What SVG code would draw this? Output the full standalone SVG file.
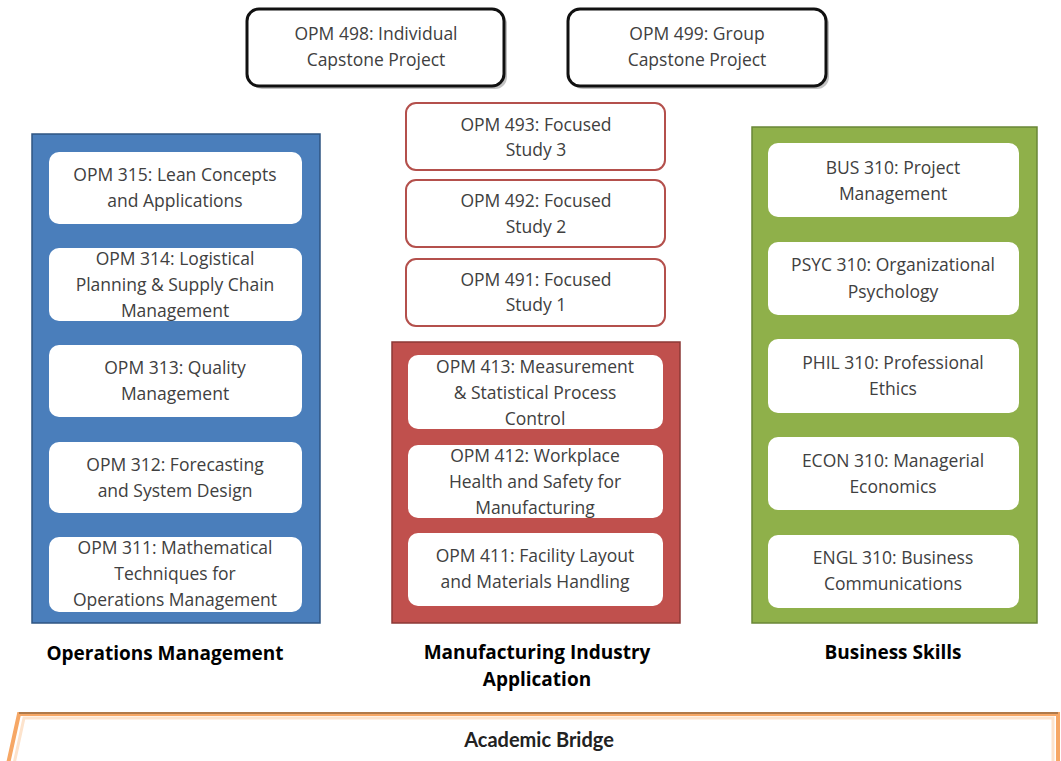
<svg xmlns="http://www.w3.org/2000/svg" width="1061" height="761" viewBox="0 0 1061 761">
<style>
.t{font-family:"Open Sans","Liberation Sans",sans-serif;font-size:17.5px;fill:#404040;text-anchor:middle}
.lbl{font-family:"Open Sans","Liberation Sans",sans-serif;font-size:19px;font-weight:bold;fill:#000;text-anchor:middle}
.inner{fill:#fff;stroke:none}
.cap{fill:#fff;stroke:#111;stroke-width:3}
.foc{fill:#fff;stroke:#b4504c;stroke-width:2}
.sh{fill:#9a9a9a;opacity:0.6}
</style>
<rect width="1061" height="761" fill="#fff"/>
<g id="connectors"></g>

<g id="opm498">
<rect class="sh" x="250" y="12" width="257" height="77" rx="12"/>
<rect class="cap" x="247" y="9" width="257" height="77" rx="12"/>
<text class="t" x="376" y="40">OPM 498: Individual</text>
<text class="t" x="376" y="66">Capstone Project</text>
</g>
<g id="opm499">
<rect class="sh" x="571" y="12" width="258" height="77" rx="12"/>
<rect class="cap" x="568" y="9" width="258" height="77" rx="12"/>
<text class="t" x="697" y="40">OPM 499: Group</text>
<text class="t" x="697" y="66">Capstone Project</text>
</g>

<g id="opm493">
<rect class="foc" x="406" y="103" width="259" height="67" rx="10"/>
<text class="t" x="536" y="131">OPM 493: Focused</text>
<text class="t" x="536" y="156">Study 3</text>
</g>
<g id="opm492">
<rect class="foc" x="406" y="180" width="259" height="67" rx="10"/>
<text class="t" x="536" y="207">OPM 492: Focused</text>
<text class="t" x="536" y="233">Study 2</text>
</g>
<g id="opm491">
<rect class="foc" x="406" y="259" width="259" height="67" rx="10"/>
<text class="t" x="536" y="286">OPM 491: Focused</text>
<text class="t" x="536" y="311">Study 1</text>
</g>

<g id="operations-management">
<rect x="32" y="134" width="288" height="489" fill="#4a7ebb" stroke="#2f5582" stroke-width="1.5"/>
<text class="lbl" x="165" y="660">Operations Management</text>
</g>
<g id="opm315">
<rect class="inner" x="49" y="152" width="253" height="72" rx="10"/>
<text class="t" x="175" y="181">OPM 315: Lean Concepts</text>
<text class="t" x="175" y="207">and Applications</text>
</g>
<g id="opm314">
<rect class="inner" x="49" y="248" width="253" height="73" rx="10"/>
<text class="t" x="175" y="265">OPM 314: Logistical</text>
<text class="t" x="175" y="291">Planning &amp; Supply Chain</text>
<text class="t" x="175" y="317">Management</text>
</g>
<g id="opm313">
<rect class="inner" x="49" y="345" width="253" height="72" rx="10"/>
<text class="t" x="175" y="374">OPM 313: Quality</text>
<text class="t" x="175" y="400">Management</text>
</g>
<g id="opm312">
<rect class="inner" x="49" y="442" width="253" height="71" rx="10"/>
<text class="t" x="175" y="471">OPM 312: Forecasting</text>
<text class="t" x="175" y="497">and System Design</text>
</g>
<g id="opm311">
<rect class="inner" x="49" y="537" width="253" height="75" rx="10"/>
<text class="t" x="175" y="554">OPM 311: Mathematical</text>
<text class="t" x="175" y="580">Techniques for</text>
<text class="t" x="175" y="606">Operations Management</text>
</g>

<g id="manufacturing-industry-application">
<rect x="392" y="342" width="288" height="281" fill="#c0504d" stroke="#8c3836" stroke-width="1.5"/>
<text class="lbl" x="537" y="659">Manufacturing Industry</text>
<text class="lbl" x="537" y="686">Application</text>
</g>
<g id="opm413">
<rect class="inner" x="408" y="355" width="255" height="74" rx="10"/>
<text class="t" x="535" y="373">OPM 413: Measurement</text>
<text class="t" x="535" y="399">&amp; Statistical Process</text>
<text class="t" x="535" y="425">Control</text>
</g>
<g id="opm412">
<rect class="inner" x="408" y="445" width="255" height="73" rx="10"/>
<text class="t" x="535" y="462">OPM 412: Workplace</text>
<text class="t" x="535" y="488">Health and Safety for</text>
<text class="t" x="535" y="514">Manufacturing</text>
</g>
<g id="opm411">
<rect class="inner" x="408" y="533" width="255" height="73" rx="10"/>
<text class="t" x="535" y="562">OPM 411: Facility Layout</text>
<text class="t" x="535" y="588">and Materials Handling</text>
</g>

<g id="business-skills">
<rect x="752" y="127" width="285" height="496" fill="#8fb04a" stroke="#6a8737" stroke-width="1.5"/>
<text class="lbl" x="893" y="659">Business Skills</text>
</g>
<g id="bus310">
<rect class="inner" x="768" y="143" width="251" height="74" rx="10"/>
<text class="t" x="893" y="174">BUS 310: Project</text>
<text class="t" x="893" y="200">Management</text>
</g>
<g id="psyc310">
<rect class="inner" x="768" y="242" width="251" height="73" rx="10"/>
<text class="t" x="893" y="271">PSYC 310: Organizational</text>
<text class="t" x="893" y="298">Psychology</text>
</g>
<g id="phil310">
<rect class="inner" x="768" y="339" width="251" height="74" rx="10"/>
<text class="t" x="893" y="369">PHIL 310: Professional</text>
<text class="t" x="893" y="395">Ethics</text>
</g>
<g id="econ310">
<rect class="inner" x="768" y="437" width="251" height="73" rx="10"/>
<text class="t" x="893" y="467">ECON 310: Managerial</text>
<text class="t" x="893" y="493">Economics</text>
</g>
<g id="engl310">
<rect class="inner" x="768" y="535" width="251" height="73" rx="10"/>
<text class="t" x="893" y="564">ENGL 310: Business</text>
<text class="t" x="893" y="590">Communications</text>
</g>

<g id="academic-bridge">
<polygon points="19,714 1058,714 1058,764 8,764" fill="#fff" stroke="#f6a765" stroke-width="4"/>
<polygon points="24,718 1053,718 1053,764 14,764" fill="none" stroke="#fde3cc" stroke-width="3"/>
<line x1="19" y1="713" x2="1058" y2="713" stroke="#b07a4a" stroke-width="2"/>
<text x="539" y="747" font-family="Lato,'Liberation Sans',sans-serif" font-size="20" font-weight="bold" fill="#222" text-anchor="middle">Academic Bridge</text>
</g>
</svg>
